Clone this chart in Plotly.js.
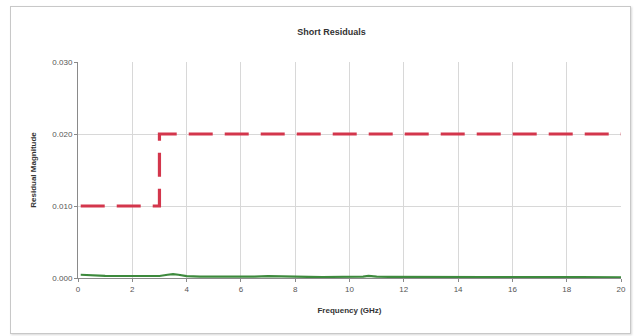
<!DOCTYPE html>
<html>
<head>
<meta charset="utf-8">
<script src="https://cdn.plot.ly/plotly-3.0.1.min.js"></script>
<style>
  html, body { margin: 0; padding: 0; background: #ffffff; }
  #wrap { position: relative; width: 634px; height: 336px; }
  #frame { position: absolute; left: 10px; top: 6px; width: 619px; height: 326px;
           border: 1px solid #c8c8c8; box-shadow: 1px 1px 2px #d8d8d8; }
  #chart { position: absolute; left: 0; top: 0; width: 634px; height: 336px; }
</style>
</head>
<body>
<div id="wrap">
  <div id="frame"></div>
  <div id="chart"></div>
</div>
<script>
// Residual limit (dashed step line)
const limitFreq = [0.1, 3, 3, 20];
const limitMag  = [0.010, 0.010, 0.020, 0.020];

// Measured short residual magnitude
const residFreq = [0.1, 0.3, 0.6, 1, 1.5, 2, 2.5, 3, 3.3, 3.5, 3.7, 4, 4.5, 5, 5.5, 6, 6.5, 7, 7.5, 8,
                   8.5, 9, 9.5, 10, 10.5, 10.7, 11, 11.5, 12, 12.5, 13, 13.5, 14, 14.5, 15, 15.5, 16,
                   16.5, 17, 17.5, 18, 18.5, 19, 19.5, 20];
const residMag  = [0.00045, 0.0004, 0.00032, 0.0003, 0.00028, 0.00026, 0.00025, 0.00028, 0.00045, 0.00055,
                   0.00045, 0.00025, 0.0002, 0.00018, 0.00016, 0.00016, 0.0002, 0.00026, 0.0002, 0.00016,
                   0.00015, 0.00014, 0.00014, 0.00015, 0.0002, 0.0003, 0.00018, 0.00015, 0.00016, 0.00014,
                   0.00014, 0.00013, 0.00013, 0.00014, 0.00013, 0.00012, 0.00014, 0.00013, 0.00013,
                   0.00012, 0.00013, 0.00012, 0.00011, 0.0001, 0.0001];

const xTicks = [0, 2, 4, 6, 8, 10, 12, 14, 16, 18, 20];
const yTicks = [0.000, 0.010, 0.020, 0.030];

const font = "'Liberation Sans', Arial, sans-serif";

const traces = [
  {
    x: residFreq, y: residMag, type: 'scatter', mode: 'lines',
    line: { color: '#3d8a3d', width: 2.2 }, hoverinfo: 'skip'
  },
  {
    x: limitFreq, y: limitMag, type: 'scatter', mode: 'lines',
    line: { color: '#d3364c', width: 3.2, dash: '24px,12px' }, hoverinfo: 'skip'
  }
];

const layout = {
  width: 634, height: 336,
  margin: { l: 78, r: 13, t: 62, b: 58 },
  paper_bgcolor: 'rgba(0,0,0,0)',
  plot_bgcolor: '#ffffff',
  showlegend: false,
  font: { family: font, color: '#444', size: 8 },
  title: {
    text: '<b>Short Residuals</b>',
    font: { family: font, size: 9, color: '#333' },
    x: 0.523, xanchor: 'center', y: 0.905, yanchor: 'middle'
  },
  xaxis: {
    range: [0, 20], tickvals: xTicks, ticktext: xTicks.map(String),
    showgrid: true, gridcolor: '#d8d8d8', gridwidth: 1,
    zeroline: false, showline: true, linecolor: '#8a8a8a', linewidth: 1,
    ticks: 'outside', ticklen: 3, tickcolor: '#8a8a8a',
    tickfont: { family: font, size: 8, color: '#555' },
    title: { text: '<b>Frequency (GHz)</b>', font: { family: font, size: 8, color: '#333' }, standoff: 14 }
  },
  yaxis: {
    range: [0, 0.030], tickvals: yTicks, tickformat: '.3f',
    showgrid: true, gridcolor: '#d8d8d8', gridwidth: 1,
    zeroline: false, showline: true, linecolor: '#8a8a8a', linewidth: 1,
    ticks: 'outside', ticklen: 3, tickcolor: '#8a8a8a',
    tickfont: { family: font, size: 8, color: '#555' },
    title: { text: '<b>Residual Magnitude</b>', font: { family: font, size: 8, color: '#333' }, standoff: 14 }
  }
};

Plotly.newPlot('chart', traces, layout, { staticPlot: true, displayModeBar: false });
</script>
</body>
</html>
